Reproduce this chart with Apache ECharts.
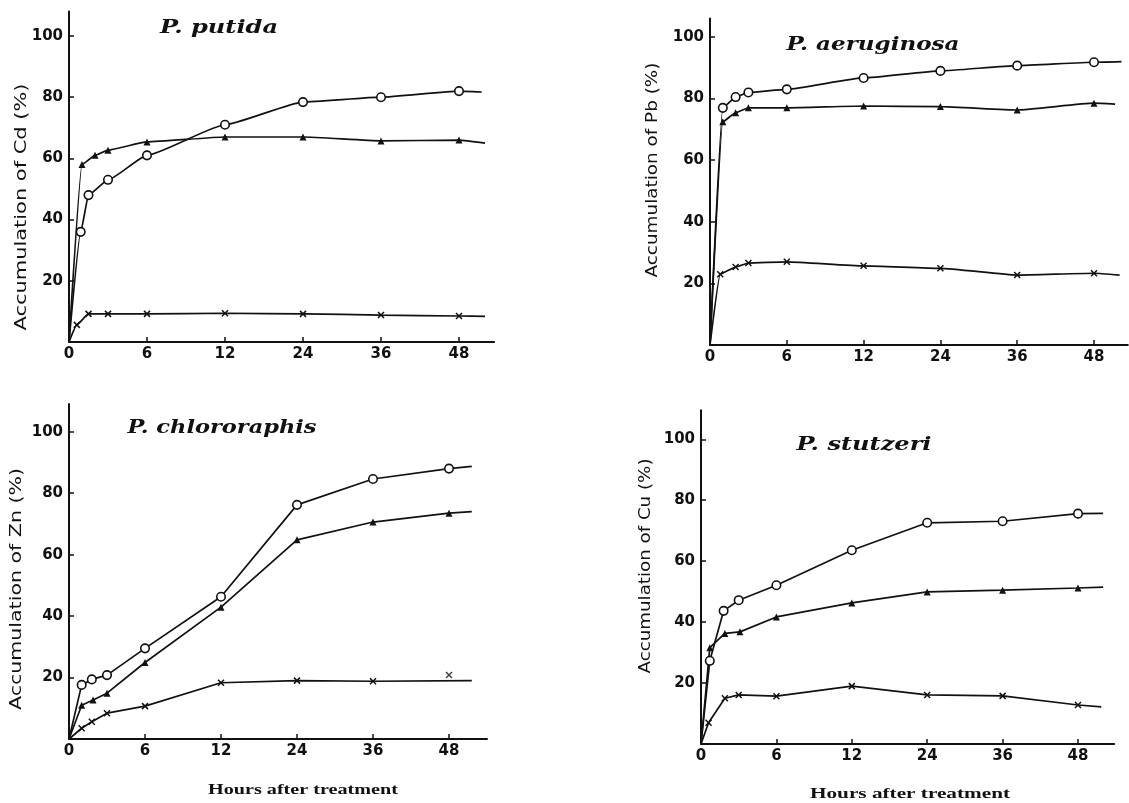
<!DOCTYPE html>
<html>
<head>
<meta charset="utf-8">
<title>Accumulation of heavy metals by Pseudomonas</title>
<script src="https://cdn.jsdelivr.net/npm/echarts@6/dist/echarts.min.js"></script>
<style>
  html, body { margin: 0; padding: 0; background: #fff; }
  #chart { width: 1129px; height: 803px; }
</style>
</head>
<body>
<div id="chart"></div>
<script>
// x axis is broken: 0-12 h gets twice the width per hour of 12-48 h
const tickHours = [0, 6, 12, 24, 36, 48];
const yTicks = [20, 40, 60, 80, 100];

// P. putida - Cd
const cdOpenHours = [0, 0.9, 1.5, 3, 6, 12, 24, 36, 48, 51.5];
const cdOpen = [0, 36, 48, 53, 61, 71, 78.4, 80, 82, 81.7];
const cdTriHours = [0, 1, 2, 3, 6, 12, 24, 36, 48, 52];
const cdTri = [0, 58, 61, 62.7, 65.4, 67, 67, 65.7, 66, 65];
const cdCrossHours = [0, 0.6, 1.5, 3, 6, 12, 24, 36, 48, 52];
const cdCross = [0, 5.6, 9.2, 9.2, 9.2, 9.4, 9.2, 8.8, 8.5, 8.4];

// P. aeruginosa - Pb
const pbOpenHours = [0, 1, 2, 3, 6, 12, 24, 36, 48, 52.3];
const pbOpen = [0, 77, 80.5, 82, 83, 86.7, 89, 90.7, 91.8, 92];
const pbTriHours = [0, 1, 2, 3, 6, 12, 24, 36, 48, 51.3];
const pbTri = [0, 72.5, 75.4, 77, 77, 77.6, 77.4, 76.3, 78.5, 78.2];
const pbCrossHours = [0, 0.8, 2, 3, 6, 12, 24, 36, 48, 52];
const pbCross = [0, 23, 25.3, 26.6, 27, 25.7, 24.9, 22.7, 23.3, 22.7];

// P. chlororaphis - Zn
const znOpenHours = [0, 1, 1.8, 3, 6, 12, 24, 36, 48, 51.6];
const znOpen = [0, 17.6, 19.4, 20.8, 29.5, 46.3, 76.2, 84.6, 88, 88.7];
const znTriHours = [0, 1, 1.9, 3, 6, 12, 24, 36, 48, 51.6];
const znTri = [0, 11, 12.7, 14.9, 24.9, 42.9, 64.8, 70.6, 73.5, 74];
const znCrossHours = [0, 1, 1.8, 3, 6, 12, 24, 36, 51.6];
const znCross = [0, 3.5, 5.6, 8.4, 10.7, 18.3, 19, 18.8, 19];
const znCrossStrayHours = [48];   // plotted point that sits off the drawn line
const znCrossStray = [20.8];

// P. stutzeri - Cu
const cuOpenHours = [0, 0.7, 1.8, 3, 6, 12, 24, 36, 48, 52];
const cuOpen = [0, 27.3, 43.7, 47.2, 52.1, 63.6, 72.6, 73.1, 75.6, 75.7];
const cuTriHours = [0, 0.7, 1.9, 3.1, 6, 12, 24, 36, 48, 52];
const cuTri = [0, 31.6, 36.3, 36.8, 41.7, 46.3, 49.9, 50.5, 51.2, 51.5];
const cuCrossHours = [0, 0.6, 1.9, 3, 6, 12, 24, 36, 48, 51.7];
const cuCross = [0, 7, 15, 16.1, 15.7, 19, 16.1, 15.8, 12.8, 12.2];

const INK = '#111';

function hourPos(h) {
    return h <= 12 ? h / 6 : 2 + (h - 12) / 12;
}

// grid geometry per panel (pixel layout, taken from the figure)
const panels = [
    { left: 69, zeroY: 342, unitX: 78, unitY: 3.06, xMax: 5.45, yMax: 108, smooth: 0.15 },
    { left: 710, zeroY: 345, unitX: 76.8, unitY: 3.08, xMax: 5.44, yMax: 106, smooth: 0.15 },
    { left: 69, zeroY: 739, unitX: 76, unitY: 3.073, xMax: 5.5, yMax: 109, smooth: false },
    { left: 701, zeroY: 744, unitX: 75.4, unitY: 3.047, xMax: 5.48, yMax: 109.5, smooth: false }
];

const seriesSets = [
    [[cdOpenHours, cdOpen, 'open'], [cdTriHours, cdTri, 'tri'], [cdCrossHours, cdCross, 'cross']],
    [[pbOpenHours, pbOpen, 'open'], [pbTriHours, pbTri, 'tri'], [pbCrossHours, pbCross, 'cross']],
    [[znOpenHours, znOpen, 'open'], [znTriHours, znTri, 'tri'], [znCrossHours, znCross, 'cross']],
    [[cuOpenHours, cuOpen, 'open'], [cuTriHours, cuTri, 'tri'], [cuCrossHours, cuCross, 'cross']]
];

const CROSS = 'path://M0,0L10,10M10,0L0,10';

function markerStyle(kind) {
    if (kind == 'open') {
        return { symbol: 'circle', symbolSize: 8.5, itemStyle: { color: '#fff', borderColor: INK, borderWidth: 1.6 } };
    }
    if (kind == 'tri') {
        return { symbol: 'triangle', symbolSize: 7, itemStyle: { color: INK, borderColor: INK, borderWidth: 0 } };
    }
    return { symbol: CROSS, symbolSize: 6, itemStyle: { color: INK, borderColor: INK, borderWidth: 1.5 } };
}

const labelFont = { color: INK, fontFamily: 'DejaVu Sans', fontWeight: 'bold', fontSize: 15 };

let grids = [], xAxes = [], yAxes = [], series = [];
panels.forEach((p, i) => {
    grids.push({
        left: p.left,
        top: p.zeroY - p.yMax * p.unitY,
        width: p.xMax * p.unitX,
        height: p.yMax * p.unitY
    });
    xAxes.push({
        type: 'value', gridIndex: i, min: 0, max: p.xMax,
        axisLine: { lineStyle: { color: INK, width: 2 } },
        axisTick: { inside: true, length: 5, lineStyle: { color: INK, width: 1.5 }, customValues: [1, 2, 3, 4, 5] },
        axisLabel: Object.assign({ margin: 5, customValues: [0, 1, 2, 3, 4, 5], formatter: v => String(tickHours[Math.round(v)]) }, labelFont),
        splitLine: { show: false }
    });
    yAxes.push({
        type: 'value', gridIndex: i, min: 0, max: p.yMax,
        axisLine: { lineStyle: { color: INK, width: 2 } },
        axisTick: { inside: true, length: 5, lineStyle: { color: INK, width: 1.5 }, customValues: yTicks },
        axisLabel: Object.assign({ margin: 6, customValues: yTicks }, labelFont),
        splitLine: { show: false }
    });
    seriesSets[i].forEach(([hours, vals, kind]) => {
        let m = markerStyle(kind);
        series.push(Object.assign({
            type: 'line', xAxisIndex: i, yAxisIndex: i,
            smooth: p.smooth, smoothMonotone: 'x',
            lineStyle: { color: INK, width: 1.7 },
            emphasis: { disabled: true },
            data: hours.map((h, k) => {
                let item = { value: [hourPos(h), vals[k]] };
                // line starts at the origin and runs on past the last sample without a marker
                if (h === 0 || h > 48) item.symbol = 'none';
                return item;
            })
        }, m));
    });
});

// the stray 48 h cross in the Zn panel
series.push(Object.assign({
    type: 'scatter', xAxisIndex: 2, yAxisIndex: 2,
    emphasis: { disabled: true },
    data: znCrossStrayHours.map((h, k) => [hourPos(h), znCrossStray[k]])
}, markerStyle('cross')));

// scanned lettering is wider than the fonts we have, so stretch to fit
const measureCtx = document.createElement('canvas').getContext('2d');
function fitText(text, x, y, width, font, opts) {
    measureCtx.font = `${font.fontStyle || 'normal'} ${font.fontWeight || 'normal'} ${font.fontSize}px "${font.fontFamily}"`;
    let w = measureCtx.measureText(text).width;
    return {
        type: 'text', x: x, y: y,
        rotation: opts && opts.vertical ? Math.PI / 2 : 0,
        scaleX: width / w,
        silent: true,
        style: Object.assign({
            text: text, x: 0, y: 0,
            align: 'center', verticalAlign: 'middle',
            textAlign: 'center', textVerticalAlign: 'middle',
            fill: INK
        }, font)
    };
}

const titleFont = { fontFamily: 'DejaVu Serif', fontStyle: 'italic', fontWeight: 'bold', fontSize: 19 };
const nameFont = { fontFamily: 'DejaVu Sans', fontWeight: 'normal', fontSize: 15 };
const xNameFont = { fontFamily: 'Liberation Serif', fontWeight: 'bold', fontSize: 15 };

const graphics = [
    fitText('P. putida', 219, 28, 118, titleFont),
    fitText('P. aeruginosa', 873, 45, 173, titleFont),
    fitText('P. chlororaphis', 222, 428, 189, titleFont),
    fitText('P. stutzeri', 864, 445, 135, titleFont),
    fitText('Accumulation of Cd (%)', 22, 207, 247, nameFont, { vertical: true }),
    fitText('Accumulation of Pb (%)', 653, 170, 215, nameFont, { vertical: true }),
    fitText('Accumulation of Zn (%)', 17, 589, 242, nameFont, { vertical: true }),
    fitText('Accumulation of Cu (%)', 646, 566, 215, nameFont, { vertical: true }),
    fitText('Hours after treatment', 303, 790, 190, xNameFont),
    fitText('Hours after treatment', 910, 794, 200, xNameFont)
];

const myChart = echarts.init(document.getElementById('chart'), null, { renderer: 'canvas' });
myChart.setOption({
    backgroundColor: '#fff',
    animation: false,
    grid: grids,
    xAxis: xAxes,
    yAxis: yAxes,
    series: series,
    graphic: graphics
});
</script>
</body>
</html>
